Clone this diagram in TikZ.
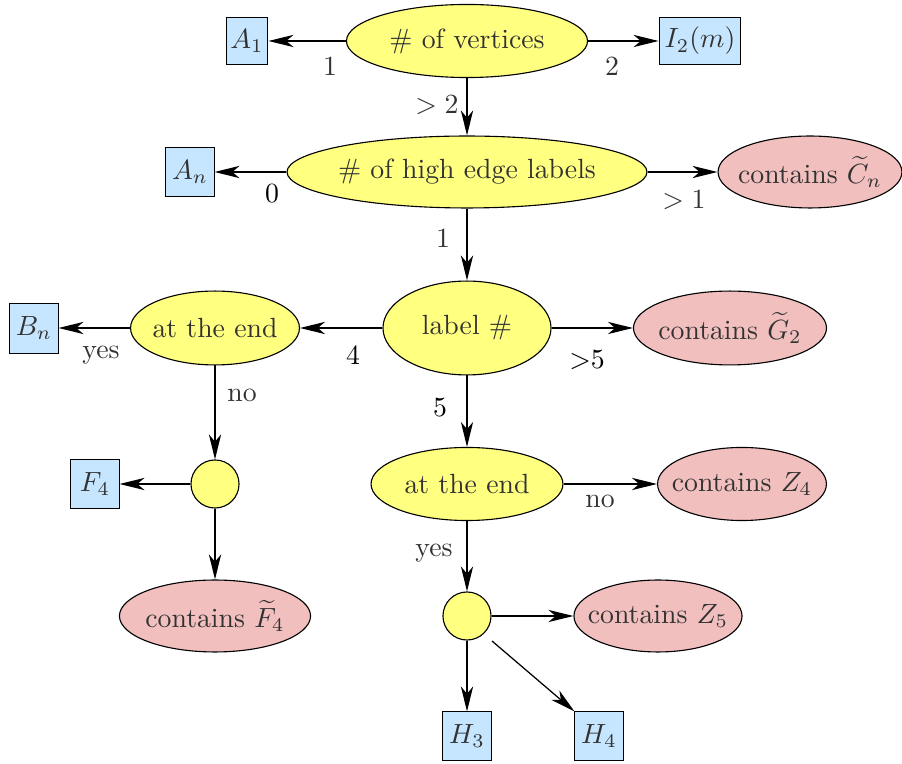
\documentclass[tikz,border=0pt]{standalone}
\usetikzlibrary{shapes.geometric,arrows.meta,calc}
\definecolor{yel}{RGB}{255,255,128}
\definecolor{blu}{RGB}{198,230,255}
\definecolor{pnk}{RGB}{242,191,191}
\definecolor{txt}{RGB}{50,50,50}
\newcommand{\zw}[1]{\makebox[0pt]{#1}}
\tikzset{
  arr/.style={-{Stealth[length=9pt,width=4.4pt,inset=2.6pt]}, line width=0.45pt},
  yell/.style={ellipse, draw, fill=yel, inner sep=0pt, text=txt},
  pell/.style={ellipse, draw, fill=pnk, inner sep=0pt, text=txt},
  bbox/.style={rectangle, draw, line width=0.35pt, fill=blu, inner sep=0pt, minimum width=17.3pt, minimum height=17.3pt, text=txt},
  dot/.style={circle, draw, fill=yel, minimum size=17.3pt, inner sep=0pt},
  lbl/.style={text=txt, inner sep=1pt},
  lblk/.style={text=black, inner sep=1pt}
}
\begin{document}
\begin{tikzpicture}[x=0.36pt,y=-0.36pt]
\useasboundingbox (0,0) rectangle (902,764);
% nodes
\node[yell, minimum width=86.8pt, minimum height=26.3pt] (v) at (467,41) {\zw{\# of vertices}};
\node[bbox, minimum width=15.1pt, minimum height=16.6pt] (A1) at (247,41) {$A_1$};
\node[bbox, minimum width=29.5pt, minimum height=16.6pt] (I2) at (700,41) {$I_2(m)$};
\node[yell, minimum width=129.6pt, minimum height=25.9pt] (h) at (467,172) {\zw{\# of high edge labels}};
\node[bbox] (An) at (190,172) {$A_n$};
\node[pell, minimum width=66.2pt, minimum height=25.9pt] (Cn) at (810,172) {\zw{contains $\widetilde{C}_n$}};
\node[yell, minimum width=60.5pt, minimum height=33.8pt] (lab) at (467,328) {\zw{label \#}};
\node[yell, minimum width=60.8pt, minimum height=26.6pt] (e1) at (215,328) {\zw{at the end}};
\node[bbox, minimum height=18pt] (Bn) at (34,328) {$B_n$};
\node[pell, minimum width=69.5pt, minimum height=26.6pt] (G2) at (730,328) {\zw{contains $\widetilde{G}_2$}};
\node[yell, minimum width=69.1pt, minimum height=26.3pt] (e2) at (467,484) {\zw{at the end}};
\node[pell, minimum width=60.8pt, minimum height=26.3pt] (Z4) at (742,484) {\zw{contains $Z_4$}};
\node[dot] (c1) at (215,484) {};
\node[bbox] (F4) at (95,484) {$F_4$};
\node[pell, minimum width=68.8pt, minimum height=25.9pt] (F4t) at (215,616) {\zw{contains $\widetilde{F}_4$}};
\node[dot] (c2) at (467,616) {};
\node[pell, minimum width=60.5pt, minimum height=25.9pt] (Z5) at (658,616) {\zw{contains $Z_5$}};
\node[bbox] (H3) at (467,736) {$H_3$};
\node[bbox] (H4) at (599,736) {$H_4$};
\coordinate (c2se) at ($(c2)+(25,25)$);
% connectors
\draw[arr] (v) -- (A1);
\draw[arr] (v) -- (I2);
\draw[arr] (v) -- (h);
\draw[arr] (h) -- (An);
\draw[arr] (h) -- (Cn);
\draw[arr] (h) -- (lab);
\draw[arr] (lab) -- (e1);
\draw[arr] (lab) -- (G2);
\draw[arr] (lab) -- (e2);
\draw[arr] (e1) -- (Bn);
\draw[arr] (e1) -- (c1);
\draw[arr] (c1) -- (F4);
\draw[arr] (c1) -- (F4t);
\draw[arr] (e2) -- (Z4);
\draw[arr] (e2) -- (c2);
\draw[arr] (c2) -- (Z5);
\draw[arr] (c2) -- (H3);
\draw[arr] (c2se) -- (H4.north west);
% labels
\node[lbl] (l1) at (330,66) {1};
\node[lbl] (l2) at (612,66) {2};
\node[lbl] (l3) at (437,105) {$>2$};
\node[lblk] (l4) at (272,194) {0};
\node[lbl] (l5) at (684,200) {$>1$};
\node[lbl] (l6) at (443,238) {1};
\node[lbl] (l7) at (101,355) {yes};
\node[lblk] (l8) at (353,355) {4};
\node[lblk] (l9) at (587,360) {{>}5};
\node[lbl] (l10) at (242,395) {no};
\node[lblk] (l11) at (440,408) {5};
\node[lbl] (l12) at (600,501) {no};
\node[lbl] (l13) at (434,553) {yes};
\end{tikzpicture}
\end{document}
